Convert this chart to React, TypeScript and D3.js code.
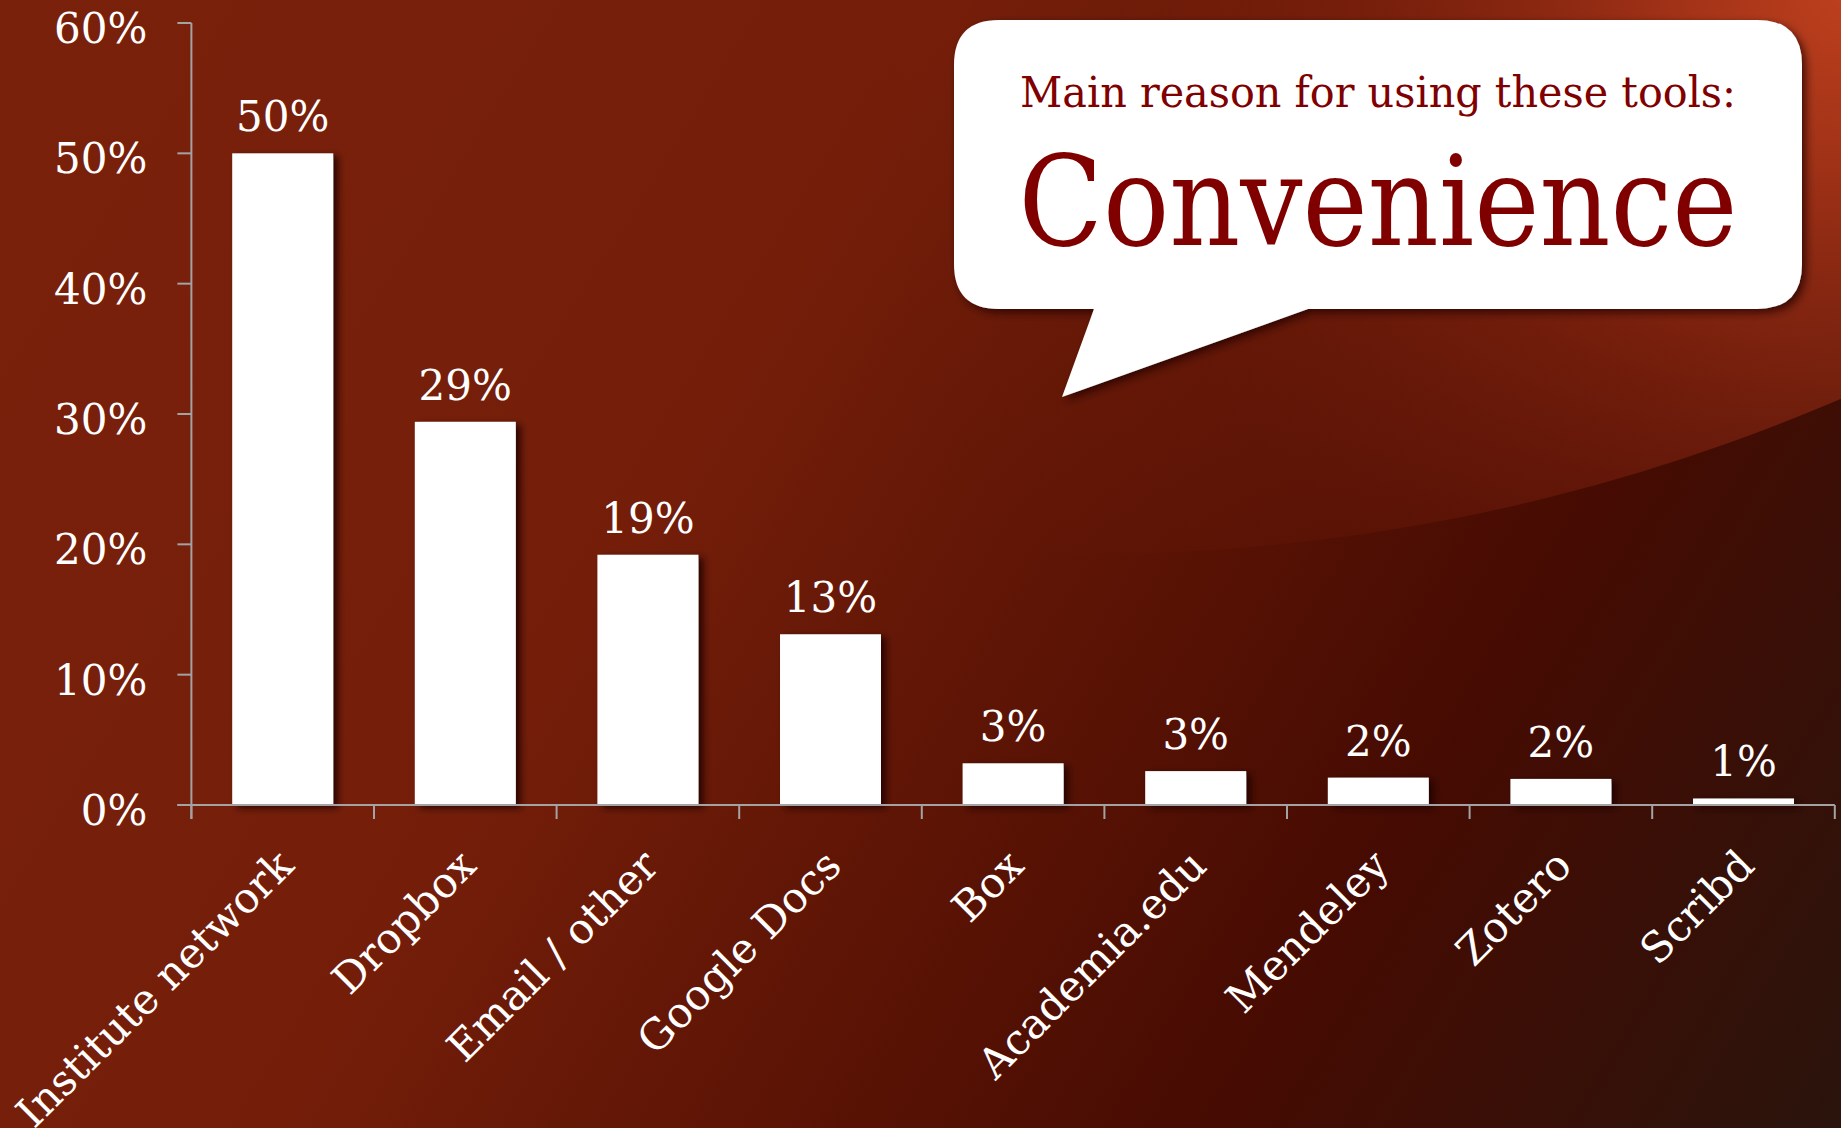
import React from "react";
import * as d3 from "d3";

const categories = [
  "Institute network",
  "Dropbox",
  "Email / other",
  "Google Docs",
  "Box",
  "Academia.edu",
  "Mendeley",
  "Zotero",
  "Scribd",
];
const values = [50, 29.4, 19.2, 13.1, 3.2, 2.6, 2.1, 2.0, 0.5];
const valueLabels = ["50%", "29%", "19%", "13%", "3%", "3%", "2%", "2%", "1%"];
const yTicks = [0, 10, 20, 30, 40, 50, 60];
const calloutSubtitle = "Main reason for using these tools:";
const calloutTitle = "Convenience";

const W = 1841;
const H = 1128;
const FONT = "'DejaVu Serif', Georgia, serif";

export default function App() {
  const x = d3
    .scaleBand<string>()
    .domain(categories)
    .range([191.4, 1834.8])
    .paddingInner(0.447)
    .paddingOuter(0.2235);
  const y = d3.scaleLinear().domain([0, 60]).range([805, 23]);
  const step = x.step();
  const x0 = x.range()[0];
  const x1 = x.range()[1];
  const boundaries = d3.range(categories.length + 1).map((i) => x0 + i * step);

  // speech bubble geometry
  const bx0 = 954, by0 = 20, bx1 = 1802, by1 = 309, r = 45;
  const tailL = 1094, tailR = 1308, tipX = 1062, tipY = 397;
  const bubblePath = [
    `M${bx0 + r},${by0}`,
    `L${bx1 - r},${by0}`,
    `Q${bx1},${by0} ${bx1},${by0 + r}`,
    `L${bx1},${by1 - r}`,
    `Q${bx1},${by1} ${bx1 - r},${by1}`,
    `L${tailR},${by1}`,
    `L${tipX},${tipY}`,
    `L${tailL},${by1}`,
    `L${bx0 + r},${by1}`,
    `Q${bx0},${by1} ${bx0},${by1 - r}`,
    `L${bx0},${by0 + r}`,
    `Q${bx0},${by0} ${bx0 + r},${by0}`,
    "Z",
  ].join(" ");

  return (
    <svg
      width={W}
      height={H}
      viewBox={`0 0 ${W} ${H}`}
      style={{ position: "absolute", left: 0, top: 0, display: "block" }}
    >
      <defs>
        <linearGradient id="bg" gradientUnits="userSpaceOnUse" x1={0} y1={0} x2={W} y2={H}>
          <stop offset="0" stopColor="#7a210b" />
          <stop offset="0.38" stopColor="#741e0a" />
          <stop offset="0.55" stopColor="#5f1505" />
          <stop offset="0.75" stopColor="#460b02" />
          <stop offset="1" stopColor="#2a140c" />
        </linearGradient>
        <radialGradient id="glow" gradientUnits="userSpaceOnUse" cx={W} cy={0} r={980}>
          <stop offset="0" stopColor="#c2421f" stopOpacity="0.95" />
          <stop offset="0.15" stopColor="#b43a1b" stopOpacity="0.85" />
          <stop offset="0.45" stopColor="#902912" stopOpacity="0.55" />
          <stop offset="0.75" stopColor="#7a200c" stopOpacity="0.2" />
          <stop offset="1" stopColor="#7a200c" stopOpacity="0" />
        </radialGradient>
        <clipPath id="arcClip">
          <circle cx={1089} cy={-1344} r={1898} />
        </clipPath>
        <filter id="barShadow" x="-20%" y="-20%" width="150%" height="140%">
          <feDropShadow dx="5" dy="3" stdDeviation="3.5" floodColor="#1e0300" floodOpacity="0.85" />
        </filter>
        <filter id="bubbleShadow" x="-10%" y="-10%" width="120%" height="130%">
          <feDropShadow dx="4" dy="4" stdDeviation="4" floodColor="#200400" floodOpacity="0.75" />
        </filter>
      </defs>

      <rect x={0} y={0} width={W} height={H} fill="url(#bg)" />
      <rect x={0} y={0} width={W} height={H} fill="url(#glow)" clipPath="url(#arcClip)" />

      {/* bars */}
      <g filter="url(#barShadow)">
        {categories.map((c, i) => (
          <rect
            key={c}
            x={x(c)}
            y={y(values[i])}
            width={x.bandwidth()}
            height={y(0) - y(values[i])}
            fill="#ffffff"
          />
        ))}
      </g>

      {/* axes */}
      <g stroke="#a3a3a3" strokeWidth={2} fill="none">
        <line x1={x0} y1={y(60)} x2={x0} y2={y(0) + 14} />
        {yTicks.map((t) => (
          <line key={t} x1={x0 - 14} y1={y(t)} x2={x0} y2={y(t)} />
        ))}
        <line x1={x0 - 14} y1={y(0)} x2={x1} y2={y(0)} />
        {boundaries.map((b, i) => (
          <line key={i} x1={b} y1={y(0)} x2={b} y2={y(0) + 14} />
        ))}
      </g>

      {/* y tick labels */}
      <g fill="#ffffff" fontFamily={FONT} fontSize={42} textAnchor="end">
        {yTicks.map((t) => (
          <text key={t} x={x0 - 44} y={y(t) + 20}>
            {`${t}%`}
          </text>
        ))}
      </g>

      {/* value labels */}
      <g fill="#ffffff" fontFamily={FONT} fontSize={42} textAnchor="middle">
        {categories.map((c, i) => (
          <text key={c} x={(x(c) as number) + x.bandwidth() / 2} y={y(values[i]) - 22}>
            {valueLabels[i]}
          </text>
        ))}
      </g>

      {/* category labels */}
      <g fill="#ffffff" fontFamily={FONT} fontSize={42} textAnchor="end">
        {categories.map((c) => {
          const cx = (x(c) as number) + x.bandwidth() / 2 + 13;
          const cy = y(0) + 63;
          return (
            <text key={c} transform={`translate(${cx},${cy}) rotate(-45)`}>
              {c}
            </text>
          );
        })}
      </g>

      {/* callout */}
      <path d={bubblePath} fill="#ffffff" filter="url(#bubbleShadow)" />
      <text
        x={(bx0 + bx1) / 2}
        y={107}
        fill="#800000"
        fontFamily={FONT}
        fontSize={42}
        textAnchor="middle"
        textLength={716}
        lengthAdjust="spacingAndGlyphs"
      >
        {calloutSubtitle}
      </text>
      <text
        x={(bx0 + bx1) / 2}
        y={245}
        fill="#800000"
        fontFamily={FONT}
        fontSize={125}
        textAnchor="middle"
        textLength={719}
        lengthAdjust="spacingAndGlyphs"
      >
        {calloutTitle}
      </text>
    </svg>
  );
}
